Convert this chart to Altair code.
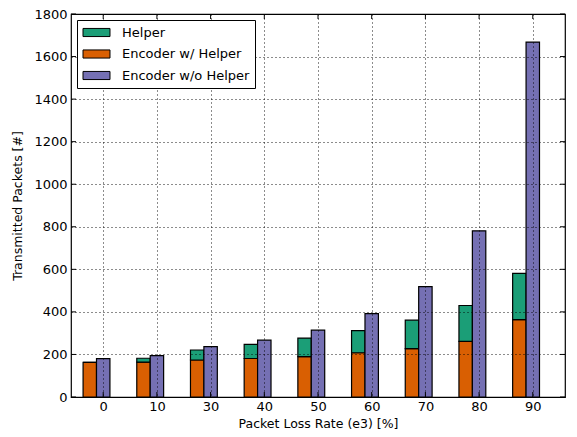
import altair as alt
import pandas as pd

categories = ["0", "10", "30", "40", "50", "60", "70", "80", "90"]
helper = [0, 18, 47, 66, 87, 104, 134, 169, 217]
enc_with_helper = [163, 164, 174, 181, 190, 208, 227, 261, 364]
enc_without_helper = [180, 194, 237, 267, 314, 392, 519, 781, 1668]

series_names = ["Helper", "Encoder w/ Helper", "Encoder w/o Helper"]
series_colors = ["#1b9e77", "#d95f02", "#7570b3"]
y_ticks = list(range(0, 1801, 200))

rows = []
for i, c in enumerate(categories):
    rows.append(dict(idx=i, cat=c, series="Encoder w/ Helper", lo=0, hi=enc_with_helper[i], slot=0))
    rows.append(dict(idx=i, cat=c, series="Helper", lo=enc_with_helper[i],
                     hi=enc_with_helper[i] + helper[i], slot=0))
    rows.append(dict(idx=i, cat=c, series="Encoder w/o Helper", lo=0, hi=enc_without_helper[i], slot=1))
df = pd.DataFrame(rows)

W, H = 494, 383
FONT = "DejaVu Sans"
label_expr = "[" + ",".join("'%s'" % c for c in categories) + "][datum.value]"

xscale = alt.Scale(domain=[-0.6, 8.6], nice=False, zero=False)
yscale = alt.Scale(domain=[0, 1800], nice=False)

common_axis = dict(grid=True, gridColor="black", gridDash=[1, 3], gridOpacity=0.9, gridWidth=1,
                   tickSize=0, domain=False, zindex=1, labelFont=FONT, titleFont=FONT,
                   labelFontSize=13, titleFontSize=12.5, labelColor="black",
                   titleColor="black", titleFontWeight="normal")

bars = alt.Chart(df).transform_calculate(
    x0="datum.idx - 0.375 + datum.slot * 0.25",
    x1="datum.idx - 0.125 + datum.slot * 0.25",
).mark_bar(stroke="black", strokeWidth=1.2, opacity=1).encode(
    x=alt.X("x0:Q", scale=xscale,
            axis=alt.Axis(values=list(range(len(categories))), labelExpr=label_expr,
                          title="Packet Loss Rate (e3) [%]", labelPadding=3, titlePadding=4,
                          **common_axis)),
    x2="x1:Q",
    y=alt.Y("lo:Q", scale=yscale,
            axis=alt.Axis(values=y_ticks, format="d", title="Transmitted Packets [#]",
                          labelPadding=4, titlePadding=9, **common_axis)),
    y2="hi:Q",
    color=alt.Color("series:N",
                    scale=alt.Scale(domain=series_names, range=series_colors),
                    legend=alt.Legend(title=None, orient="none", legendX=6, legendY=6,
                                      symbolType="M-2,-0.6H2V0.6H-2Z", symbolSize=182,
                                      symbolStrokeColor="black", symbolStrokeWidth=1,
                                      symbolOpacity=1, labelFontSize=13, labelFont=FONT,
                                      labelColor="black", rowPadding=6.5, labelOffset=18,
                                      symbolOffset=7,
                                      strokeColor="black", fillColor="white", padding=5,
                                      cornerRadius=0, zindex=2)),
)

tick_x = pd.DataFrame({"idx": list(range(len(categories)))})
tick_y = pd.DataFrame({"v": y_ticks})

xt_bottom = alt.Chart(tick_x).mark_rule(color="black", strokeWidth=1).encode(
    x=alt.X("idx:Q", scale=xscale), y=alt.value(H), y2=alt.value(H - 5))
xt_top = alt.Chart(tick_x).mark_rule(color="black", strokeWidth=1).encode(
    x=alt.X("idx:Q", scale=xscale), y=alt.value(0), y2=alt.value(5))
yt_left = alt.Chart(tick_y).mark_rule(color="black", strokeWidth=1).encode(
    y=alt.Y("v:Q", scale=yscale), x=alt.value(0), x2=alt.value(5))
yt_right = alt.Chart(tick_y).mark_rule(color="black", strokeWidth=1).encode(
    y=alt.Y("v:Q", scale=yscale), x=alt.value(W), x2=alt.value(W - 5))

chart = alt.layer(bars, xt_bottom, xt_top, yt_left, yt_right).properties(
    width=W, height=H,
    autosize=alt.AutoSizeParams(type="none"),
    padding={"left": 71, "top": 14, "right": 12, "bottom": 40},
    background="white",
).configure_view(
    stroke="black", strokeWidth=1.2
)

chart.save("out.html", embed_options={"renderer": "svg", "actions": False})
